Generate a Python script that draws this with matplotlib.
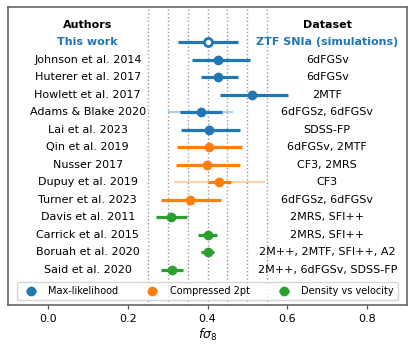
import matplotlib
matplotlib.use("Agg")
import matplotlib.pyplot as plt
import numpy as np

authors = ["This work", "Johnson et al. 2014", "Huterer et al. 2017", "Howlett et al. 2017",
           "Adams & Blake 2020", "Lai et al. 2023", "Qin et al. 2019", "Nusser 2017",
           "Dupuy et al. 2019", "Turner et al. 2023", "Davis et al. 2011", "Carrick et al. 2015",
           "Boruah et al. 2020", "Said et al. 2020"]
datasets = ["ZTF SNIa (simulations)", "6dFGSv", "6dFGSv", "2MTF", "6dFGSz, 6dFGSv", "SDSS-FP",
            "6dFGSv, 2MTF", "CF3, 2MRS", "CF3", "6dFGSz, 6dFGSv", "2MRS, SFI++", "2MRS, SFI++",
            "2M++, 2MTF, SFI++, A2", "2M++, 6dFGSv, SDSS-FP"]
fs8 = [0.400, 0.427, 0.427, 0.511, 0.383, 0.405, 0.404, 0.399, 0.429, 0.357, 0.309, 0.401, 0.400, 0.310]
err_lo = [0.075, 0.065, 0.043, 0.080, 0.051, 0.072, 0.081, 0.079, 0.029, 0.073, 0.038, 0.024, 0.016, 0.026]
err_hi = [0.076, 0.079, 0.049, 0.090, 0.053, 0.077, 0.082, 0.082, 0.030, 0.076, 0.040, 0.024, 0.016, 0.028]
method = ["Max-likelihood"] * 6 + ["Compressed 2pt"] * 4 + ["Density vs velocity"] * 4
# secondary (total) error bars
extra_idx = [4, 8]
extra_lo = [0.081, 0.113]
extra_hi = [0.080, 0.116]
vlines = [0.25, 0.30, 0.35, 0.40, 0.45, 0.50, 0.55]
xticks = [0.0, 0.2, 0.4, 0.6, 0.8]

colors = {"Max-likelihood": "#1f77b4", "Compressed 2pt": "#ff7f0e", "Density vs velocity": "#2ca02c"}

fig = plt.figure(figsize=(4.15, 3.51), dpi=100)
ax = fig.add_axes([8 / 415, 46 / 351, 399 / 415, 298 / 351])

for v in vlines:
    ax.axvline(v, color="#999999", ls=":", lw=1.0, zorder=0)

ypos = np.arange(1, len(authors) + 1)
handles = {}
for i, (x, lo, hi, m) in enumerate(zip(fs8, err_lo, err_hi, method)):
    c = colors[m]
    if i in extra_idx:
        k = extra_idx.index(i)
        ax.errorbar(x, ypos[i], xerr=[[extra_lo[k]], [extra_hi[k]]], fmt="none",
                    ecolor=c, elinewidth=1.5, alpha=0.35, zorder=1)
    if i == 0:
        ax.errorbar(x, ypos[i], xerr=[[lo], [hi]], fmt="o", color=c, ms=5.8,
                    mfc="white", mec=c, mew=2.0, elinewidth=2.3, capsize=0, zorder=3)
    else:
        h = ax.errorbar(x, ypos[i], xerr=[[lo], [hi]], fmt="o", color=c, ms=6,
                        elinewidth=2.3, capsize=0, zorder=3)
        if m not in handles:
            handles[m] = h

tx_a, tx_d = 0.1, 0.7
ax.text(tx_a, 0, "Authors", ha="center", va="center", fontsize=8, fontweight="bold")
ax.text(tx_d, 0, "Dataset", ha="center", va="center", fontsize=8, fontweight="bold")
for i, (a, d) in enumerate(zip(authors, datasets)):
    if i == 0:
        kw = dict(color="#1f77b4", fontweight="bold")
    else:
        kw = dict(color="black")
    ax.text(tx_a, ypos[i], a, ha="center", va="center", fontsize=8, **kw)
    ax.text(tx_d, ypos[i], d, ha="center", va="center", fontsize=8, **kw)

ax.set_xlim(-0.1, 0.9)
ax.set_ylim(16, -1)
ax.set_yticks([])
ax.set_xticks(xticks)
ax.set_xticklabels([f"{t:.1f}" for t in xticks], fontsize=8)
ax.tick_params(axis="x", length=3, width=0.9, color="#555555")
ax.set_xlabel(r"$f\sigma_8$", fontsize=9, labelpad=2)
for s in ax.spines.values():
    s.set_color("#666666")
    s.set_linewidth(1.2)

leg = ax.legend(handles=[handles[k] for k in colors], labels=list(colors), loc="lower center",
                ncol=3, fontsize=7, handlelength=2.0, handletextpad=0.8, columnspacing=2.5,
                bbox_to_anchor=(0.5, 0.01), borderaxespad=0.2)

fig.savefig("out.png", dpi=100)
